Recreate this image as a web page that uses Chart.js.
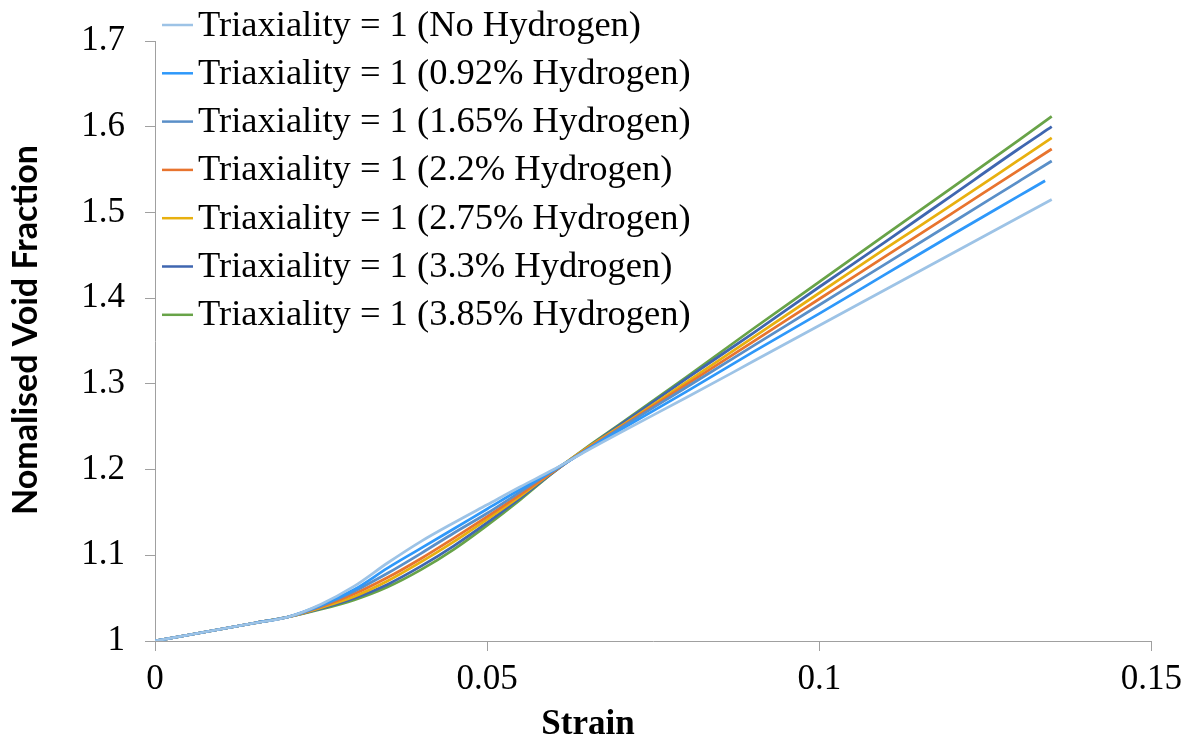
<!DOCTYPE html>
<html>
<head>
<meta charset="utf-8">
<title>Normalised void fraction vs strain</title>
<script src="https://cdn.jsdelivr.net/npm/chart.js@4.4.1/dist/chart.umd.min.js"></script>
<style>
  html, body { margin: 0; padding: 0; background: #fff; }
  #wrap { width: 1190px; height: 743px; }
</style>
</head>
<body>
<div id="wrap"><canvas id="voidChart" width="1190" height="743"></canvas></div>
<script>
// strain values shared by all curves
var strain = [0, 0.005, 0.01, 0.015, 0.02, 0.025, 0.03, 0.035, 0.04, 0.045, 0.05,
              0.055, 0.06, 0.065, 0.07, 0.08, 0.09, 0.1, 0.11, 0.12, 0.13, 0.135];
// last strain point of each curve (the 0.92% one stops a bit earlier)
var endStrain = [0.135, 0.134, 0.135, 0.135, 0.135, 0.135, 0.135];

var seriesLabels = [
    'Triaxiality = 1 (No Hydrogen)',
    'Triaxiality = 1 (0.92% Hydrogen)',
    'Triaxiality = 1 (1.65% Hydrogen)',
    'Triaxiality = 1 (2.2% Hydrogen)',
    'Triaxiality = 1 (2.75% Hydrogen)',
    'Triaxiality = 1 (3.3% Hydrogen)',
    'Triaxiality = 1 (3.85% Hydrogen)'
];

var noHydrogen = [1, 1.007, 1.014, 1.021, 1.028, 1.043, 1.064, 1.091, 1.116, 1.138, 1.159,
                  1.180, 1.200, 1.222, 1.243, 1.284, 1.326, 1.368, 1.410, 1.452, 1.494, 1.515];
var h092 = [1, 1.007, 1.014, 1.021, 1.028, 1.042, 1.060, 1.085, 1.108, 1.131, 1.154,
            1.177, 1.199, 1.223, 1.246, 1.291, 1.337, 1.382, 1.428, 1.474, 1.519, 1.537];
var h165 = [1, 1.007, 1.014, 1.021, 1.028, 1.041, 1.058, 1.079, 1.102, 1.126, 1.149,
            1.174, 1.199, 1.223, 1.248, 1.296, 1.344, 1.392, 1.440, 1.488, 1.536, 1.560];
var h220 = [1, 1.007, 1.014, 1.021, 1.028, 1.040, 1.055, 1.074, 1.096, 1.120, 1.145,
            1.171, 1.198, 1.224, 1.249, 1.299, 1.349, 1.399, 1.449, 1.499, 1.549, 1.574];
var h275 = [1, 1.007, 1.014, 1.021, 1.028, 1.039, 1.052, 1.070, 1.092, 1.116, 1.142,
            1.169, 1.198, 1.225, 1.250, 1.302, 1.354, 1.406, 1.458, 1.509, 1.561, 1.587];
var h330 = [1, 1.007, 1.014, 1.021, 1.028, 1.038, 1.050, 1.066, 1.087, 1.111, 1.138,
            1.167, 1.197, 1.225, 1.252, 1.306, 1.359, 1.413, 1.466, 1.520, 1.574, 1.600];
var h385 = [1, 1.007, 1.014, 1.021, 1.028, 1.037, 1.048, 1.063, 1.083, 1.107, 1.135,
            1.165, 1.197, 1.226, 1.253, 1.308, 1.364, 1.419, 1.474, 1.529, 1.584, 1.612];

var seriesValues = [noHydrogen, h092, h165, h220, h275, h330, h385];
var seriesColors = ['#9DC3E6', '#2E98FA', '#5A8FC8', '#E8742E', '#E8B00F', '#3F66B0', '#68A348'];

var xTickLabels = ['0', '0.05', '0.1', '0.15'];
var yTickLabels = ['1', '1.1', '1.2', '1.3', '1.4', '1.5', '1.6', '1.7'];

var serif = '"Liberation Serif", "Times New Roman", serif';
var axisGrey = '#A0A0A0';

function toPoints(values, idx) {
    return values.map(function (v, i) {
        var x = (i === values.length - 1) ? endStrain[idx] : strain[i];
        return {x: x, y: v};
    });
}

var datasets = seriesValues.map(function (values, i) {
    return {
        label: seriesLabels[i],
        data: toPoints(values, i),
        borderColor: seriesColors[i],
        backgroundColor: seriesColors[i],
        borderWidth: 2.75,
        pointRadius: 0,
        fill: false,
        cubicInterpolationMode: 'monotone'
    };
});

// legend and axis titles drawn where the original has them
var overlayText = {
    id: 'overlayText',
    afterDraw: function (chart) {
        var ctx = chart.ctx;
        var area = chart.chartArea;
        ctx.save();
        ctx.font = '36.5px ' + serif;
        ctx.textBaseline = 'middle';
        ctx.textAlign = 'left';
        chart.data.datasets.forEach(function (ds, i) {
            var y = 25 + i * 48.3;
            ctx.strokeStyle = ds.borderColor;
            ctx.lineWidth = 2.5;
            ctx.beginPath();
            ctx.moveTo(area.left + 7, y);
            ctx.lineTo(area.left + 38, y);
            ctx.stroke();
            ctx.fillStyle = '#000';
            ctx.fillText(ds.label, area.left + 43, y + 1);
        });

        ctx.font = 'bold 35px ' + serif;
        ctx.textAlign = 'center';
        ctx.fillText('Strain', 588, 725);

        ctx.translate(26, 330);
        ctx.rotate(-Math.PI / 2);
        ctx.font = 'bold 34px Lato, "Open Sans", sans-serif';
        ctx.fillText('Nomalised Void Fraction', 0, 0);
        ctx.restore();
    }
};

var ctx = document.getElementById('voidChart').getContext('2d');
new Chart(ctx, {
    type: 'line',
    data: {datasets: datasets},
    plugins: [overlayText],
    options: {
        responsive: false,
        animation: false,
        layout: {padding: {left: 0, top: 41, right: 36, bottom: 0}},
        plugins: {
            legend: {display: false},
            tooltip: {enabled: false}
        },
        scales: {
            x: {
                type: 'linear',
                min: 0,
                max: 0.15,
                afterFit: function (scale) { scale.height = 102; },
                afterBuildTicks: function (scale) {
                    scale.ticks = xTickLabels.map(function (t) { return {value: parseFloat(t)}; });
                },
                ticks: {
                    color: '#000',
                    font: {family: serif, size: 35},
                    padding: 8,
                    maxRotation: 0,
                    callback: function (value, index) { return xTickLabels[index]; }
                },
                grid: {drawOnChartArea: false, drawTicks: true, tickLength: 10, color: axisGrey, lineWidth: 1},
                border: {display: true, color: axisGrey, width: 1}
            },
            y: {
                min: 1,
                max: 1.7,
                afterFit: function (scale) { scale.width = 155; },
                afterBuildTicks: function (scale) {
                    scale.ticks = yTickLabels.map(function (t) { return {value: parseFloat(t)}; });
                },
                ticks: {
                    color: '#000',
                    font: {family: serif, size: 35},
                    padding: 20,
                    callback: function (value, index) { return yTickLabels[index]; }
                },
                grid: {drawOnChartArea: false, drawTicks: true, tickLength: 10, color: axisGrey, lineWidth: 1},
                border: {display: true, color: axisGrey, width: 1}
            }
        }
    }
});
</script>
</body>
</html>
